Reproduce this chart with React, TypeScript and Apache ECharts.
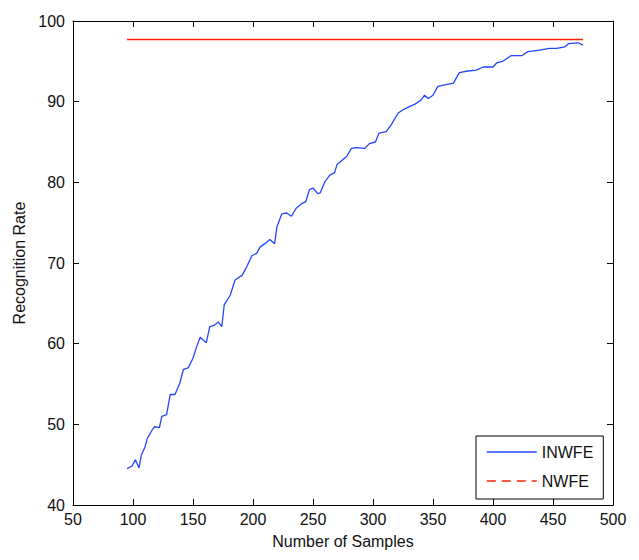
import React, { useEffect, useRef } from "react";
import * as echarts from "echarts";

const seriesNames = ["INWFE", "NWFE"];
const xAxisTitle = "Number of Samples";
const yAxisTitle = "Recognition Rate";
const xMin = 50, xMax = 500, xStep = 50;
const yMin = 40, yMax = 100, yStep = 10;

// INWFE: [number of samples, recognition rate]
const inwfePoints: [number, number][] = [
  [95, 44.5], [99, 44.8], [102, 45.6], [105, 44.6], [107, 46.2], [110, 47.2],
  [112, 48.3], [116, 49.3], [118, 49.7], [122, 49.6], [124, 51.0], [128, 51.2],
  [131, 53.7], [135, 53.7], [139, 55.1], [142, 56.8], [146, 57.0], [150, 58.2],
  [153, 59.6], [156, 60.8], [161, 60.1], [164, 62.1], [168, 62.3], [171, 62.7],
  [174, 62.1], [176, 64.8], [181, 66.0], [185, 67.9], [191, 68.5], [195, 69.6],
  [199, 70.9], [203, 71.2], [206, 72.0], [210, 72.4], [214, 72.9], [218, 72.4],
  [220, 74.5], [224, 76.1], [228, 76.2], [232, 75.8], [236, 76.8], [241, 77.4],
  [244, 77.6], [247, 79.1], [250, 79.3], [254, 78.6], [256, 78.7], [260, 80.1],
  [264, 80.9], [268, 81.2], [270, 82.2], [274, 82.7], [278, 83.2], [282, 84.2],
  [286, 84.3], [293, 84.2], [297, 84.8], [302, 85.0], [305, 86.1], [311, 86.3],
  [315, 87.1], [321, 88.6], [325, 89.0], [329, 89.3], [335, 89.7], [340, 90.2],
  [343, 90.8], [346, 90.4], [350, 90.8], [354, 91.9], [361, 92.1], [367, 92.3],
  [372, 93.6], [379, 93.8], [386, 93.9], [392, 94.3], [400, 94.3], [403, 94.8],
  [408, 95.0], [410, 95.2], [415, 95.7], [424, 95.7], [429, 96.2], [439, 96.4],
  [447, 96.6], [453, 96.6], [460, 96.8], [463, 97.2], [471, 97.3], [475, 97.0],
];

// NWFE: constant rate over the sample range
const nwfeSamples = [95, 475];
const nwfeRate = 97.7;

const FONT = "'Liberation Sans', Arial, sans-serif";
const BLUE = "#2446ff";
const RED = "#ff2200";

export default function App() {
  const ref = useRef<HTMLDivElement>(null);
  useEffect(() => {
    if (!ref.current) return;
    const chart = echarts.init(ref.current, null, { renderer: "svg" });
    const axisLine = { show: true, onZero: false, lineStyle: { color: "#000", width: 1 } };
    const tick = { show: true, inside: true, length: 6, lineStyle: { color: "#000", width: 1 } };
    const label = { color: "#111", fontSize: 16, fontFamily: FONT };
    chart.setOption({
      animation: false,
      backgroundColor: "#fff",
      grid: { left: 73, right: 26, top: 21, bottom: 55, containLabel: false },
      xAxis: [
        {
          type: "value", min: xMin, max: xMax, interval: xStep, position: "bottom",
          axisLine, axisTick: tick, splitLine: { show: false },
          axisLabel: { ...label, margin: 6 },
          name: xAxisTitle, nameLocation: "middle", nameGap: 28,
          nameTextStyle: { color: "#111", fontSize: 16, fontFamily: FONT },
        },
        {
          type: "value", min: xMin, max: xMax, interval: xStep, position: "top",
          axisLine, axisTick: tick, splitLine: { show: false }, axisLabel: { show: false },
        },
      ],
      yAxis: [
        {
          type: "value", min: yMin, max: yMax, interval: yStep, position: "left",
          axisLine, axisTick: tick, splitLine: { show: false },
          axisLabel: { ...label, margin: 8 },
          name: yAxisTitle, nameLocation: "middle", nameGap: 41,
          nameTextStyle: { color: "#111", fontSize: 16, fontFamily: FONT },
        },
        {
          type: "value", min: yMin, max: yMax, interval: yStep, position: "right",
          axisLine, axisTick: tick, splitLine: { show: false }, axisLabel: { show: false },
        },
      ],
      legend: {
        orient: "vertical",
        left: 476,
        top: 436,
        padding: [8, 10, 10, 10],
        itemWidth: 50,
        itemHeight: 14,
        itemGap: 13,
        borderColor: "#000",
        borderWidth: 1,
        backgroundColor: "#fff",
        itemStyle: { opacity: 0 },
        textStyle: { color: "#111", fontSize: 16, fontFamily: FONT },
        data: [
          { name: seriesNames[0], lineStyle: { color: BLUE, width: 1.5 } },
          { name: seriesNames[1], lineStyle: { color: RED, width: 1.5, type: [9, 6] } },
        ],
      },
      series: [
        {
          name: seriesNames[0], type: "line", xAxisIndex: 0, yAxisIndex: 0,
          data: inwfePoints, showSymbol: false, symbol: "none",
          lineStyle: { color: BLUE, width: 1.3 }, itemStyle: { color: BLUE },
        },
        {
          name: seriesNames[1], type: "line", xAxisIndex: 0, yAxisIndex: 0,
          data: nwfeSamples.map((s) => [s, nwfeRate]), showSymbol: false, symbol: "none",
          lineStyle: { color: RED, width: 1.6 }, itemStyle: { color: RED },
        },
      ],
    });
    return () => chart.dispose();
  }, []);
  return (
    <div
      ref={ref}
      style={{ position: "fixed", left: 0, top: 0, width: 639, height: 560, background: "#fff" }}
    />
  );
}
